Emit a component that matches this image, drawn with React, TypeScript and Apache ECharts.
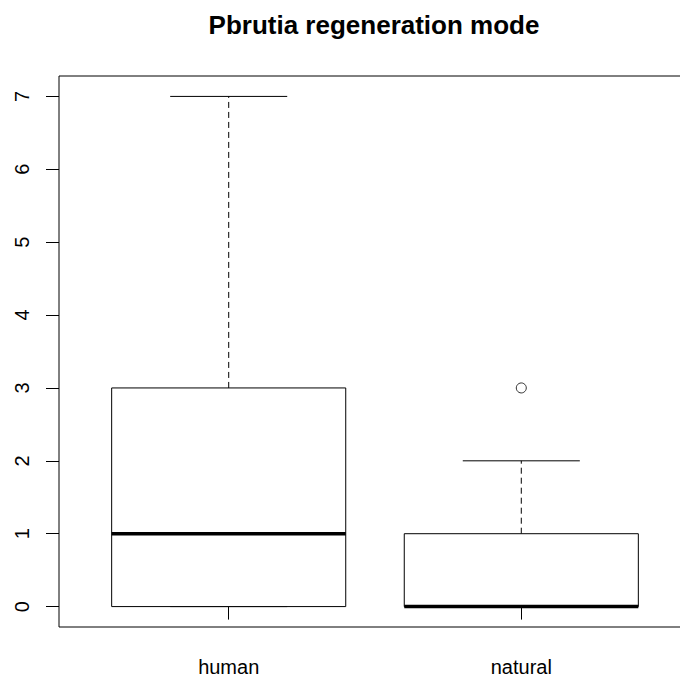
import React, { useEffect, useRef } from "react";
import * as echarts from "echarts";

const categories = ["human", "natural"];
const minVals = [0, 0];
const q1Vals = [0, 0];
const medianVals = [1, 0];
const q3Vals = [3, 1];
const maxVals = [7, 2];
const outlierGroup = [1]; // index into categories
const outlierValues = [3];
const yTicks = [0, 1, 2, 3, 4, 5, 6, 7];
const titleText = "Pbrutia regeneration mode";

const FONT = "Liberation Sans, Arial, sans-serif";

export default function App() {
  const ref = useRef<HTMLDivElement>(null);
  useEffect(() => {
    if (!ref.current) return;
    const chart = echarts.init(ref.current, undefined, { renderer: "svg" });
    const boxData = categories.map((_, i) => [
      i + 1,
      minVals[i],
      q1Vals[i],
      medianVals[i],
      q3Vals[i],
      maxVals[i],
    ]);
    const outData = outlierGroup.map((g, i) => [g + 1, outlierValues[i]]);
    chart.setOption({
      animation: false,
      backgroundColor: "#fff",
      graphic: [
        {
          type: "text",
          x: 374,
          y: 25,
          style: {
            text: titleText,
            font: `bold 26px ${FONT}`,
            fill: "#000",
            textAlign: "center",
            textVerticalAlign: "middle",
          },
        },
      ],
      grid: {
        left: 59,
        top: 76,
        width: 632,
        height: 551,
        show: true,
        borderColor: "#000",
        borderWidth: 1,
        backgroundColor: "transparent",
      },
      xAxis: {
        type: "value",
        min: 0.42,
        max: 2.58,
        axisLine: { show: false },
        splitLine: { show: false },
        axisTick: {
          show: true,
          length: 13,
          customValues: [1, 2],
          lineStyle: { color: "#000", width: 1 },
        },
        axisLabel: {
          customValues: [1, 2],
          formatter: (v: number) => categories[Math.round(v) - 1] ?? "",
          color: "#000",
          fontSize: 20,
          fontFamily: FONT,
          margin: 30,
        },
      },
      yAxis: {
        type: "value",
        min: -0.28,
        max: 7.28,
        axisLine: { show: false },
        splitLine: { show: false },
        axisTick: {
          show: true,
          length: 13,
          customValues: yTicks,
          lineStyle: { color: "#000", width: 1 },
        },
        axisLabel: {
          customValues: yTicks,
          rotate: 90,
          color: "#000",
          fontSize: 20,
          fontFamily: FONT,
          margin: 27,
        },
      },
      series: [
        {
          type: "custom",
          data: boxData,
          encode: { x: 0, y: [1, 2, 3, 4, 5] },
          renderItem: (params: any, api: any) => {
            const x = api.value(0);
            const mn = api.value(1);
            const q1 = api.value(2);
            const md = api.value(3);
            const q3 = api.value(4);
            const mx = api.value(5);
            const hw = 0.4;
            const cw = 0.2;
            const c = (a: number, b: number) => api.coord([a, b]);
            const [xl, yq3] = c(x - hw, q3);
            const [xr, yq1] = c(x + hw, q1);
            const [cx, ymx] = c(x, mx);
            const [, ymn] = c(x, mn);
            const [, ymd] = c(x, md);
            const [cl] = c(x - cw, 0);
            const [cr] = c(x + cw, 0);
            const thin = { stroke: "#000", lineWidth: 1, fill: "none" };
            return {
              type: "group",
              children: [
                {
                  type: "line",
                  shape: { x1: cx, y1: yq3, x2: cx, y2: ymx },
                  style: { ...thin, lineDash: [6, 4] },
                },
                {
                  type: "line",
                  shape: { x1: cx, y1: yq1, x2: cx, y2: ymn },
                  style: { ...thin, lineDash: [6, 4] },
                },
                {
                  type: "line",
                  shape: { x1: cl, y1: ymx, x2: cr, y2: ymx },
                  style: thin,
                },
                {
                  type: "line",
                  shape: { x1: cl, y1: ymn, x2: cr, y2: ymn },
                  style: thin,
                },
                {
                  type: "rect",
                  shape: { x: xl, y: yq3, width: xr - xl, height: yq1 - yq3 },
                  style: { stroke: "#000", lineWidth: 1, fill: "#fff" },
                },
                {
                  type: "line",
                  shape: { x1: xl, y1: ymd, x2: xr, y2: ymd },
                  style: { stroke: "#000", lineWidth: 3.5 },
                },
              ],
            };
          },
        },
        {
          type: "scatter",
          data: outData,
          symbol: "circle",
          symbolSize: 10,
          itemStyle: { color: "#fff", borderColor: "#000", borderWidth: 1 },
        },
      ],
    });
    return () => chart.dispose();
  }, []);
  return (
    <div
      style={{
        position: "absolute",
        left: 0,
        top: 0,
        width: 680,
        height: 687,
        overflow: "hidden",
        background: "#fff",
      }}
    >
      <div ref={ref} style={{ width: 700, height: 687 }} />
    </div>
  );
}
